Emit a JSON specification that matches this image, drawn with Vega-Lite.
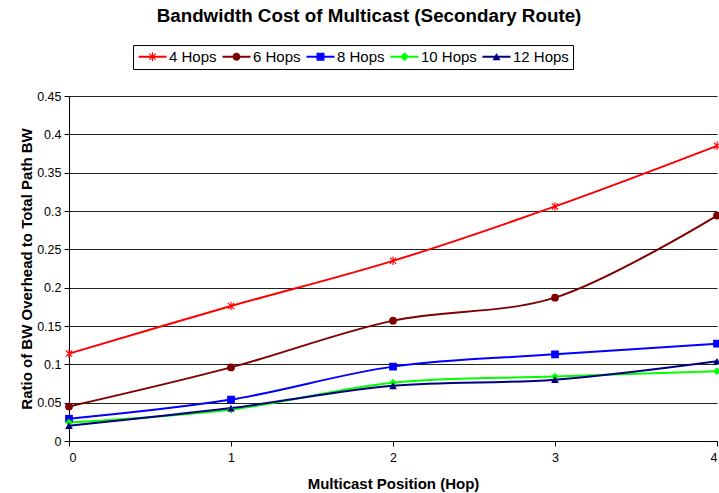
{
  "$schema": "https://vega.github.io/schema/vega-lite/v6.json",
  "width": 648,
  "height": 345,
  "autosize": {"type": "none"},
  "padding": {"left": 69, "top": 96, "right": 2, "bottom": 52},
  "background": "white",
  "config": {
    "font": "Liberation Sans",
    "view": {"stroke": null},
    "axis": {"labelFont": "Liberation Sans", "titleFont": "Liberation Sans"},
    "legend": {
      "orient": "none",
      "legendX": 64,
      "legendY": -51,
      "direction": "horizontal",
      "columns": 5,
      "strokeColor": "black",
      "padding": 4,
      "labelFontSize": 15,
      "labelFontWeight": "normal",
      "labelColor": "black",
      "labelFont": "Liberation Sans",
      "symbolSize": 64,
      "symbolStrokeWidth": 0,
      "symbolOffset": 8,
      "labelOffset": 9,
      "columnPadding": 4
    }
  },
  "title": {
    "text": "Bandwidth Cost of Multicast (Secondary Route)",
    "fontSize": 18.8,
    "fontWeight": "bold",
    "font": "Liberation Sans",
    "color": "black",
    "dx": -24,
    "offset": 19
  },
  "data": {
    "values": [
      {"hop": 0, "series": "4 Hops", "ratio": 0.114},
      {"hop": 1, "series": "4 Hops", "ratio": 0.176},
      {"hop": 2, "series": "4 Hops", "ratio": 0.235},
      {"hop": 3, "series": "4 Hops", "ratio": 0.306},
      {"hop": 4, "series": "4 Hops", "ratio": 0.385},
      {"hop": 0, "series": "6 Hops", "ratio": 0.045},
      {"hop": 1, "series": "6 Hops", "ratio": 0.096},
      {"hop": 2, "series": "6 Hops", "ratio": 0.157},
      {"hop": 3, "series": "6 Hops", "ratio": 0.187},
      {"hop": 4, "series": "6 Hops", "ratio": 0.294},
      {"hop": 0, "series": "8 Hops", "ratio": 0.029},
      {"hop": 1, "series": "8 Hops", "ratio": 0.054},
      {"hop": 2, "series": "8 Hops", "ratio": 0.097},
      {"hop": 3, "series": "8 Hops", "ratio": 0.113},
      {"hop": 4, "series": "8 Hops", "ratio": 0.127},
      {"hop": 0, "series": "10 Hops", "ratio": 0.024},
      {"hop": 1, "series": "10 Hops", "ratio": 0.041},
      {"hop": 2, "series": "10 Hops", "ratio": 0.076},
      {"hop": 3, "series": "10 Hops", "ratio": 0.084},
      {"hop": 4, "series": "10 Hops", "ratio": 0.091},
      {"hop": 0, "series": "12 Hops", "ratio": 0.020},
      {"hop": 1, "series": "12 Hops", "ratio": 0.043},
      {"hop": 2, "series": "12 Hops", "ratio": 0.072},
      {"hop": 3, "series": "12 Hops", "ratio": 0.080},
      {"hop": 4, "series": "12 Hops", "ratio": 0.104}
    ]
  },
  "encoding": {
    "x": {
      "field": "hop",
      "type": "quantitative",
      "scale": {"domain": [0, 4], "nice": false},
      "axis": {
        "title": "Multicast Position (Hop)",
        "values": [0, 1, 2, 3, 4],
        "format": "d",
        "grid": false,
        "domainColor": "black",
        "tickColor": "black",
        "labelColor": "black",
        "labelFontSize": 12.5,
        "titleFontSize": 15,
        "titleFontWeight": "bold",
        "titleColor": "black",
        "titlePadding": 13,
        "tickSize": 5,
        "labelPadding": 5
      }
    },
    "y": {
      "field": "ratio",
      "type": "quantitative",
      "scale": {"domain": [0, 0.45], "nice": false},
      "axis": {
        "title": "Ratio of BW Overhead to Total Path BW",
        "values": [0, 0.05, 0.1, 0.15, 0.2, 0.25, 0.3, 0.35, 0.4, 0.45],
        "format": "~g",
        "grid": true,
        "gridColor": "#222222",
        "gridWidth": 1,
        "domainColor": "black",
        "tickColor": "black",
        "labelColor": "black",
        "labelFontSize": 12.5,
        "titleFontSize": 15,
        "titleFontWeight": "bold",
        "titleColor": "black",
        "titlePadding": 2,
        "tickSize": 5,
        "labelPadding": 3
      }
    },
    "color": {
      "field": "series",
      "type": "nominal",
      "title": null,
      "scale": {
        "domain": ["4 Hops", "6 Hops", "8 Hops", "10 Hops", "12 Hops"],
        "range": ["#FF0000", "#800000", "#0000FF", "#00FF00", "#000080"]
      },
      "legend": {
        "encode": {
          "symbols": {
            "update": {
              "shape": {"signal": "datum.value === '4 Hops' ? 'M-3.5,-0.25L3.5,-0.25L3.5,0.25L-3.5,0.25ZM-0.15,-1.1L0.15,-1.1L0.15,1.1L-0.15,1.1ZM-0.7,-0.9L0.9,0.7L0.7,0.9L-0.9,-0.7ZM-0.9,0.7L0.7,-0.9L0.9,-0.7L-0.7,0.9Z' : datum.value === '6 Hops' ? 'M-3.5,-0.25L3.5,-0.25L3.5,0.25L-3.5,0.25ZM-1,0A1,1 0 1,1 1,0A1,1 0 1,1 -1,0Z' : datum.value === '8 Hops' ? 'M-3.5,-0.25L3.5,-0.25L3.5,0.25L-3.5,0.25ZM-1,-1L1,-1L1,1L-1,1Z' : datum.value === '10 Hops' ? 'M-3.5,-0.25L3.5,-0.25L3.5,0.25L-3.5,0.25ZM-1.1,0L0,-1.1L1.1,0L0,1.1Z' : 'M-3.5,-0.25L3.5,-0.25L3.5,0.25L-3.5,0.25ZM-1,0.85L0,-0.95L1,0.85Z'"},
              "fill": {"signal": "datum.value === '4 Hops' ? '#FF0000' : datum.value === '6 Hops' ? '#800000' : datum.value === '8 Hops' ? '#0000FF' : datum.value === '10 Hops' ? '#00FF00' : '#000080'"},
              "strokeWidth": {"value": 0},
              "opacity": {"value": 1},
              "fillOpacity": {"value": 1}
            }
          }
        }
      }
    }
  },
  "layer": [
    {
      "mark": {"type": "line", "interpolate": "catmull-rom", "strokeWidth": 2}
    },
    {
      "mark": {"type": "point", "filled": true, "opacity": 1, "size": 60},
      "encoding": {
        "shape": {
          "field": "series",
          "type": "nominal",
          "legend": null,
          "scale": {
            "domain": ["12 Hops", "10 Hops", "8 Hops", "6 Hops", "4 Hops"],
            "range": ["triangle-up", "diamond", "square", "circle", "M-0.15,-1.1L0.15,-1.1L0.15,1.1L-0.15,1.1ZM-0.7,-0.9L0.9,0.7L0.7,0.9L-0.9,-0.7ZM-0.9,0.7L0.7,-0.9L0.9,-0.7L-0.7,0.9Z"]
          }
        }
      }
    }
  ]
}
